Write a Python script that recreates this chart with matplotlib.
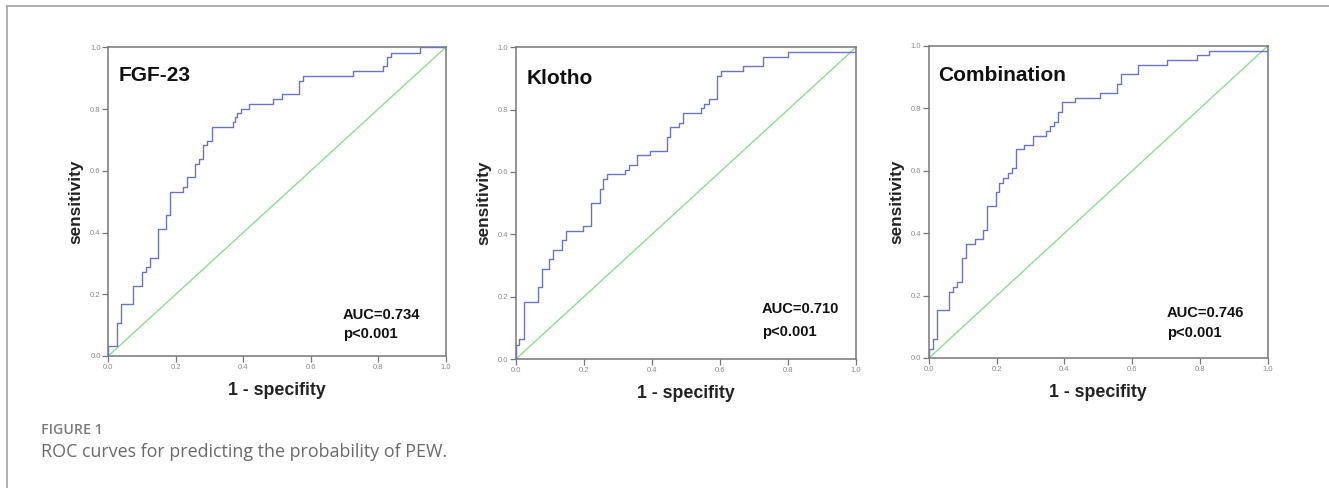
import matplotlib
matplotlib.use("Agg")
import matplotlib.pyplot as plt
from matplotlib.lines import Line2D

# ---- data: step vertices (1 - specificity, sensitivity) ----
fgf_fpr  = [0.0, 0.0, 0.025, 0.025, 0.037, 0.037, 0.072, 0.072, 0.099, 0.099, 0.112, 0.112, 0.124, 0.124,
            0.147, 0.147, 0.171, 0.171, 0.183, 0.183, 0.222, 0.222, 0.234, 0.234, 0.258, 0.258, 0.268, 0.268,
            0.280, 0.280, 0.293, 0.293, 0.306, 0.306, 0.369, 0.369, 0.375, 0.375, 0.380, 0.380, 0.392, 0.392,
            0.418, 0.418, 0.489, 0.489, 0.514, 0.514, 0.566, 0.566, 0.578, 0.578, 0.726, 0.726, 0.813, 0.813,
            0.825, 0.825, 0.838, 0.838, 0.924, 0.924, 1.0]
fgf_tpr  = [0.0, 0.032, 0.032, 0.106, 0.106, 0.168, 0.168, 0.228, 0.228, 0.273, 0.273, 0.288, 0.288, 0.319,
            0.319, 0.410, 0.410, 0.457, 0.457, 0.531, 0.531, 0.546, 0.546, 0.579, 0.579, 0.622, 0.622, 0.637,
            0.637, 0.682, 0.682, 0.698, 0.698, 0.743, 0.743, 0.759, 0.759, 0.773, 0.773, 0.788, 0.788, 0.801,
            0.801, 0.816, 0.816, 0.832, 0.832, 0.849, 0.849, 0.892, 0.892, 0.908, 0.908, 0.924, 0.924, 0.941,
            0.941, 0.970, 0.970, 0.983, 0.983, 1.0, 1.0]

klo_fpr  = [0.0, 0.0, 0.010, 0.010, 0.024, 0.024, 0.064, 0.064, 0.075, 0.075, 0.098, 0.098, 0.110, 0.110,
            0.135, 0.135, 0.147, 0.147, 0.198, 0.198, 0.222, 0.222, 0.246, 0.246, 0.257, 0.257, 0.269, 0.269,
            0.320, 0.320, 0.333, 0.333, 0.355, 0.355, 0.394, 0.394, 0.443, 0.443, 0.454, 0.454, 0.479, 0.479,
            0.492, 0.492, 0.543, 0.543, 0.554, 0.554, 0.567, 0.567, 0.590, 0.590, 0.602, 0.602, 0.667, 0.667,
            0.727, 0.727, 0.801, 0.801, 1.0, 1.0]
klo_tpr  = [0.0, 0.045, 0.045, 0.063, 0.063, 0.184, 0.184, 0.230, 0.230, 0.289, 0.289, 0.320, 0.320, 0.350,
            0.350, 0.382, 0.382, 0.410, 0.410, 0.427, 0.427, 0.502, 0.502, 0.547, 0.547, 0.578, 0.578, 0.593,
            0.593, 0.606, 0.606, 0.622, 0.622, 0.653, 0.653, 0.668, 0.668, 0.713, 0.713, 0.743, 0.743, 0.758,
            0.758, 0.789, 0.789, 0.804, 0.804, 0.818, 0.818, 0.834, 0.834, 0.909, 0.909, 0.925, 0.925, 0.939,
            0.939, 0.970, 0.970, 0.985, 0.985, 1.0]

com_fpr  = [0.0, 0.0, 0.013, 0.013, 0.025, 0.025, 0.060, 0.060, 0.072, 0.072, 0.084, 0.084, 0.096, 0.096,
            0.109, 0.109, 0.136, 0.136, 0.160, 0.160, 0.172, 0.172, 0.197, 0.197, 0.208, 0.208, 0.219, 0.219,
            0.234, 0.234, 0.246, 0.246, 0.257, 0.257, 0.281, 0.281, 0.306, 0.306, 0.344, 0.344, 0.357, 0.357,
            0.369, 0.369, 0.382, 0.382, 0.394, 0.394, 0.431, 0.431, 0.505, 0.505, 0.554, 0.554, 0.566, 0.566,
            0.616, 0.616, 0.702, 0.702, 0.790, 0.790, 0.828, 0.828, 1.0, 1.0]
com_tpr  = [0.0, 0.030, 0.030, 0.061, 0.061, 0.155, 0.155, 0.213, 0.213, 0.229, 0.229, 0.245, 0.245, 0.319,
            0.319, 0.366, 0.366, 0.381, 0.381, 0.411, 0.411, 0.488, 0.488, 0.531, 0.531, 0.560, 0.560, 0.577,
            0.577, 0.592, 0.592, 0.608, 0.608, 0.669, 0.669, 0.683, 0.683, 0.712, 0.712, 0.728, 0.728, 0.742,
            0.742, 0.758, 0.758, 0.787, 0.787, 0.819, 0.819, 0.832, 0.832, 0.848, 0.848, 0.878, 0.878, 0.909,
            0.909, 0.940, 0.940, 0.955, 0.955, 0.970, 0.970, 0.985, 0.985, 1.0]

panel_titles = ["FGF-23", "Klotho", "Combination"]
auc_labels = ["AUC=0.734", "AUC=0.710", "AUC=0.746"]
p_labels = ["p<0.001", "p<0.001", "p<0.001"]
ticks = [0.0, 0.2, 0.4, 0.6, 0.8, 1.0]
tick_labels = ["0.0", "0.2", "0.4", "0.6", "0.8", "1.0"]
xlabel = "1 - specifity"
ylabel = "sensitivity"
caption_head = "FIGURE 1"
caption_text = "ROC curves for predicting the probability of PEW."

curves = [(fgf_fpr, fgf_tpr), (klo_fpr, klo_tpr), (com_fpr, com_tpr)]

# ---- layout ----
W, H = 1329, 488
fig = plt.figure(figsize=(W / 100, H / 100), dpi=100)
plt.rcParams['font.family'] = ['Liberation Sans', 'DejaVu Sans']

positions = [
    (108.3, 445.7, 47.3, 356.0),
    (516.0, 856.0, 47.3, 359.0),
    (929.0, 1267.7, 46.0, 358.0),
]
title_pos = [(0.03, 0.91), (0.031, 0.90), (0.028, 0.907)]
auc_pos = [(0.695, 0.133, 0.071), (0.723, 0.159, 0.088), (0.702, 0.145, 0.079)]

blue = "#6b75c6"
green = "#8fdc90"
spine = "#777777"
tickc = "#8a8a8a"

for i, (l, r, t, b) in enumerate(positions):
    ax = fig.add_axes([l / W, 1 - b / H, (r - l) / W, (b - t) / H])
    fpr, tpr = curves[i]
    ax.plot([0, 1], [0, 1], color=green, lw=1.0, zorder=2)
    ax.plot(fpr, tpr, color=blue, lw=1.0, zorder=3)
    ax.set_xlim(0, 1)
    ax.set_ylim(0, 1)
    ax.set_xticks(ticks)
    ax.set_yticks(ticks)
    ax.set_xticklabels(tick_labels)
    ax.set_yticklabels(tick_labels)
    ax.tick_params(axis='both', direction='out', length=4, width=0.9, color=spine,
                   labelsize=5.5, labelcolor=tickc, pad=1.5)
    for s in ax.spines.values():
        s.set_color(spine)
        s.set_linewidth(1.1)
    ax.set_xlabel(xlabel, fontsize=12.8, fontweight='bold', color='#222222', labelpad=8)
    ax.set_ylabel(ylabel, fontsize=12.3, fontweight='bold', color='#222222', labelpad=5)
    tx, ty = title_pos[i]
    ax.text(tx, ty, panel_titles[i], transform=ax.transAxes, fontsize=15, fontweight='bold',
            color='#111111', ha='left', va='center')
    axp, ay1, ay2 = auc_pos[i]
    ax.text(axp, ay1, auc_labels[i], transform=ax.transAxes, fontsize=10.6, fontweight='bold',
            color='#111111', ha='left', va='center')
    ax.text(axp, ay2, p_labels[i], transform=ax.transAxes, fontsize=10.6, fontweight='bold',
            color='#111111', ha='left', va='center')

# frame lines (top and left)
fig.add_artist(Line2D([7 / W, 1.0], [1 - 6 / H, 1 - 6 / H], transform=fig.transFigure,
                      color='#aaaaaa', lw=1.3))
fig.add_artist(Line2D([7 / W, 7 / W], [1 - 6 / H, 0.0], transform=fig.transFigure,
                      color='#aaaaaa', lw=1.3))

fig.text(41 / W, 1 - 434.3 / H, caption_head, fontsize=10.2, fontweight='semibold',
         color='#7a7a7a', ha='left', va='baseline', family=['Open Sans', 'DejaVu Sans'])
fig.text(41 / W, 1 - 456.7 / H, caption_text, fontsize=12.9,
         color='#6a6a6a', ha='left', va='baseline', family=['Open Sans', 'DejaVu Sans'])

fig.savefig("out.png", dpi=100)
